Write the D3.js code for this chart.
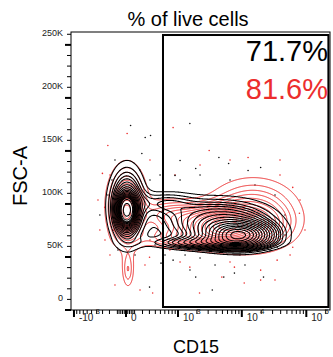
<!DOCTYPE html>
<html><head><meta charset="utf-8">
<script src="https://cdn.jsdelivr.net/npm/d3@7"></script>
<style>body{margin:0;background:#fff}svg{display:block;font-family:"Liberation Sans",Arial,sans-serif}</style>
</head><body>
<svg id="c" width="333" height="357"></svg>
<script>
// ---------------- data ----------------
const title = "% of live cells";
const xLabel = "CD15";
const yLabel = "FSC-A";
const seriesNames = ["black sample", "red sample"];
const gatePercents = ["71.7%", "81.6%"];
const gateCD15 = [557, 220000];
const gateFSC = [2830, 259300];
const xDomain = [-1117, 233000];
const yDomain = [0, 262144];
const xMajorTicks = [-1000, 0, 1000, 10000, 100000];
const xTickBase = ["-10", "0", "10", "10", "10"];
const xTickExp = ["3", "", "3", "4", "5"];
const xMinorTicks = [-900,-800,-700,-600,-500,-400,-300,-200,-100,-80,-60,-40,-20,20,40,60,80,100,200,300,400,500,600,700,800,900,
  2000,3000,4000,5000,6000,7000,8000,9000,20000,30000,40000,50000,60000,70000,80000,90000,200000];
const yMajorTicks = [0, 50000, 100000, 150000, 200000, 250000];
const yTickLabels = ["0", "50K", "100K", "150K", "200K", "250K"];
const yMinorTicks = [10000,20000,30000,40000,60000,70000,80000,90000,110000,120000,130000,140000,160000,170000,180000,190000,210000,220000,230000,240000,260000];
// density peaks: [CD15, FSC-A, spread (asinh units), spread (FSC), relative height]
const blackPeaks = [
  [10, 94300, 0.18, 8500, 1.0],
  [10, 98000, 0.40, 23000, 0.2],
  [605, 100900, 0.71, 7500, 0.08],
  [9380, 70700, 0.72, 7500, 0.5],
  [4590, 83000, 1.2, 13200, 0.2],
  [3200, 63200, 1.25, 3800, 0.15]
];
const redPeaks = [
  [10, 92400, 0.18, 8500, 0.9],
  [10, 98000, 0.40, 22000, 0.18],
  [23, 37700, 0.14, 11300, 0.06],
  [5500, 80000, 0.95, 10000, 0.4],
  [15000, 90000, 1.0, 20000, 0.12],
  [2240, 67900, 1.2, 6000, 0.12],
  [733, 89600, 0.71, 9430, 0.08]
];
// scattered outlier events
const blackDotsCD15 = [53,237,318,1548,6240,4410,1915,893,12500,19600,35300,513,830,3480,5250,7680,21700,1915,302,1080,555,191,
  -167,-220,-129,167,309,395,605,1300,2240,9380,27400,46700,46700,32700,2240,1080,493,105,-93,-344,6560,16000,3840,1555,11200];
const blackDotsFSC = [174000,162600,164500,175800,138200,143800,133500,126900,131600,134400,59200,44200,47000,18800,31000,34800,31000,31000,21600,141000,147600,147600,
  122600,108400,141500,132000,122600,61300,51900,51900,49000,51900,56600,70700,89600,108400,127300,122600,127300,51900,56600,89600,122600,117900,42400,37700,42400];
const redDotsCD15 = [-222,-148,-268,-302,830,3110,12500,61600,78200,61600,35300,19600,10900,4900,1548,555,302,353,19600,7680,13,2200,
  -263,-344,-193,167,-129,234,309,733,1080,6560,56000,95400,80000,39100,6560,39100,2240,893,309,-193,-376,19170,4590,1555,32700];
const redDotsFSC = [155100,75200,96800,128800,172000,150400,143800,115600,91200,59200,47000,37600,25400,31000,40400,34800,49800,16000,28200,40400,166400,16000,
  66000,75400,51900,18900,23600,42400,66000,56600,45300,45300,51900,75400,103700,127300,141500,141500,136700,127300,141500,127300,103700,61300,56600,61300,28300];
const contourProbs = d3.range(0.04, 0.99, 0.05);

// ---------------- scales ----------------
const cofactor = 320;
const T = v => Math.asinh(v / cofactor);
const plot = {l: 71, r: 330, t: 32, b: 310};
const xs = d3.scaleLinear().domain(xDomain.map(T)).range([plot.l, plot.r]);
const X = v => xs(T(v));
const Y = d3.scaleLinear().domain(yDomain).range([plot.b, plot.t]);
const RED = "#ec2d2d";

const svg = d3.select("#c");
const clipId = "clipP";
svg.append("defs").append("clipPath").attr("id", clipId).append("rect")
  .attr("x", plot.l).attr("y", plot.t).attr("width", plot.r - plot.l).attr("height", plot.b - plot.t);
const g = svg.append("g").attr("clip-path", `url(#${clipId})`);

// density grid
const W = plot.r - plot.l, H = plot.b - plot.t;
function grid(peaks) {
  const pk = peaks.map(p => ({ct: T(p[0]), cf: p[1], st: p[2], sf: p[3], w: p[4]}));
  const vals = new Float64Array(W * H);
  for (let j = 0; j < H; j++) {
    const f = Y.invert(plot.t + j + 0.5);
    for (let i = 0; i < W; i++) {
      const t = xs.invert(plot.l + i + 0.5);
      let s = 0;
      for (const p of pk) {
        const a = (t - p.ct) / p.st, b = (f - p.cf) / p.sf;
        s += p.w * Math.exp(-0.5 * (a * a + b * b));
      }
      vals[j * W + i] = s;
    }
  }
  return vals;
}
function probThresholds(vals) {
  const sorted = Array.from(vals).sort((a, b) => b - a);
  const total = d3.sum(sorted);
  const out = [];
  let cum = 0, k = 0;
  for (const p of contourProbs) {
    while (k < sorted.length && cum / total < p) { cum += sorted[k]; k++; }
    out.push(sorted[Math.max(0, k - 1)]);
  }
  return out;
}
const path = d3.geoPath();
function drawContours(peaks, color, width) {
  const vals = grid(peaks);
  const th = probThresholds(vals);
  const cs = d3.contours().size([W, H]).thresholds(th)(vals);
  g.append("g").attr("transform", `translate(${plot.l},${plot.t})`)
    .selectAll("path").data(cs).join("path")
    .attr("d", path).attr("fill", "none").attr("stroke", color).attr("stroke-width", width);
}

// dots
g.append("g").selectAll("circle").data(redDotsCD15).join("circle")
  .attr("cx", (d) => X(d)).attr("cy", (d, i) => Y(redDotsFSC[i])).attr("r", 0.8).attr("fill", RED);
g.append("g").selectAll("circle").data(blackDotsCD15).join("circle")
  .attr("cx", (d) => X(d)).attr("cy", (d, i) => Y(blackDotsFSC[i])).attr("r", 0.8).attr("fill", "#111");

drawContours(redPeaks, RED, 1);
drawContours(blackPeaks, "#000", 1.05);

// frame
svg.append("rect").attr("x", plot.l).attr("y", plot.t).attr("width", W).attr("height", H)
  .attr("fill", "none").attr("stroke", "#000").attr("stroke-width", 1);
// gate
svg.append("rect").attr("x", X(gateCD15[0])).attr("y", Y(gateFSC[1]))
  .attr("width", X(gateCD15[1]) - X(gateCD15[0])).attr("height", Y(gateFSC[0]) - Y(gateFSC[1]))
  .attr("fill", "none").attr("stroke", "#000").attr("stroke-width", 2);

// y axis
const ya = svg.append("g");
ya.selectAll("line.maj").data(yMajorTicks).join("line").attr("class", "maj")
  .attr("x1", plot.l - 6).attr("x2", plot.l).attr("y1", d => Y(d)).attr("y2", d => Y(d))
  .attr("stroke", "#000").attr("stroke-width", 2);
ya.selectAll("line.min").data(yMinorTicks).join("line").attr("class", "min")
  .attr("x1", plot.l - 4).attr("x2", plot.l).attr("y1", d => Y(d)).attr("y2", d => Y(d))
  .attr("stroke", "#000").attr("stroke-width", 1);
ya.selectAll("text").data(yMajorTicks).join("text")
  .attr("x", plot.l - 8).attr("y", d => Y(d) - 9).attr("text-anchor", "end")
  .attr("font-size", 9).attr("fill", "#222").text((d, i) => yTickLabels[i]);

// x axis
const xa = svg.append("g");
xa.selectAll("line.maj").data(xMajorTicks).join("line").attr("class", "maj")
  .attr("x1", d => X(d)).attr("x2", d => X(d)).attr("y1", plot.b).attr("y2", plot.b + 7)
  .attr("stroke", "#000").attr("stroke-width", 2);
xa.selectAll("line.min").data(xMinorTicks).join("line").attr("class", "min")
  .attr("x1", d => X(d)).attr("x2", d => X(d)).attr("y1", plot.b).attr("y2", plot.b + 4)
  .attr("stroke", "#000").attr("stroke-width", 1);
const xt = xa.selectAll("text").data(xMajorTicks).join("text")
  .attr("x", d => X(d) + 5).attr("y", plot.b + 11).attr("font-size", 10).attr("fill", "#222");
xt.append("tspan").text((d, i) => xTickBase[i]);
xt.append("tspan").attr("dx", 2).attr("dy", -7).attr("font-size", 8).text((d, i) => xTickExp[i]);

// titles
svg.append("text").attr("x", 188).attr("y", 26).attr("text-anchor", "middle")
  .attr("font-size", 20).attr("fill", "#000").text(title);
svg.append("text").attr("x", 328).attr("y", 61).attr("text-anchor", "end")
  .attr("font-size", 29).attr("fill", "#000").text(gatePercents[0]);
svg.append("text").attr("x", 328).attr("y", 99).attr("text-anchor", "end")
  .attr("font-size", 29).attr("fill", RED).text(gatePercents[1]);
svg.append("text").attr("transform", "translate(27,176) rotate(-90)").attr("text-anchor", "middle")
  .attr("font-size", 20).attr("fill", "#000").text(yLabel);
svg.append("text").attr("x", 196).attr("y", 353).attr("text-anchor", "middle")
  .attr("font-size", 18).attr("fill", "#000").text(xLabel);
</script>
</body></html>
